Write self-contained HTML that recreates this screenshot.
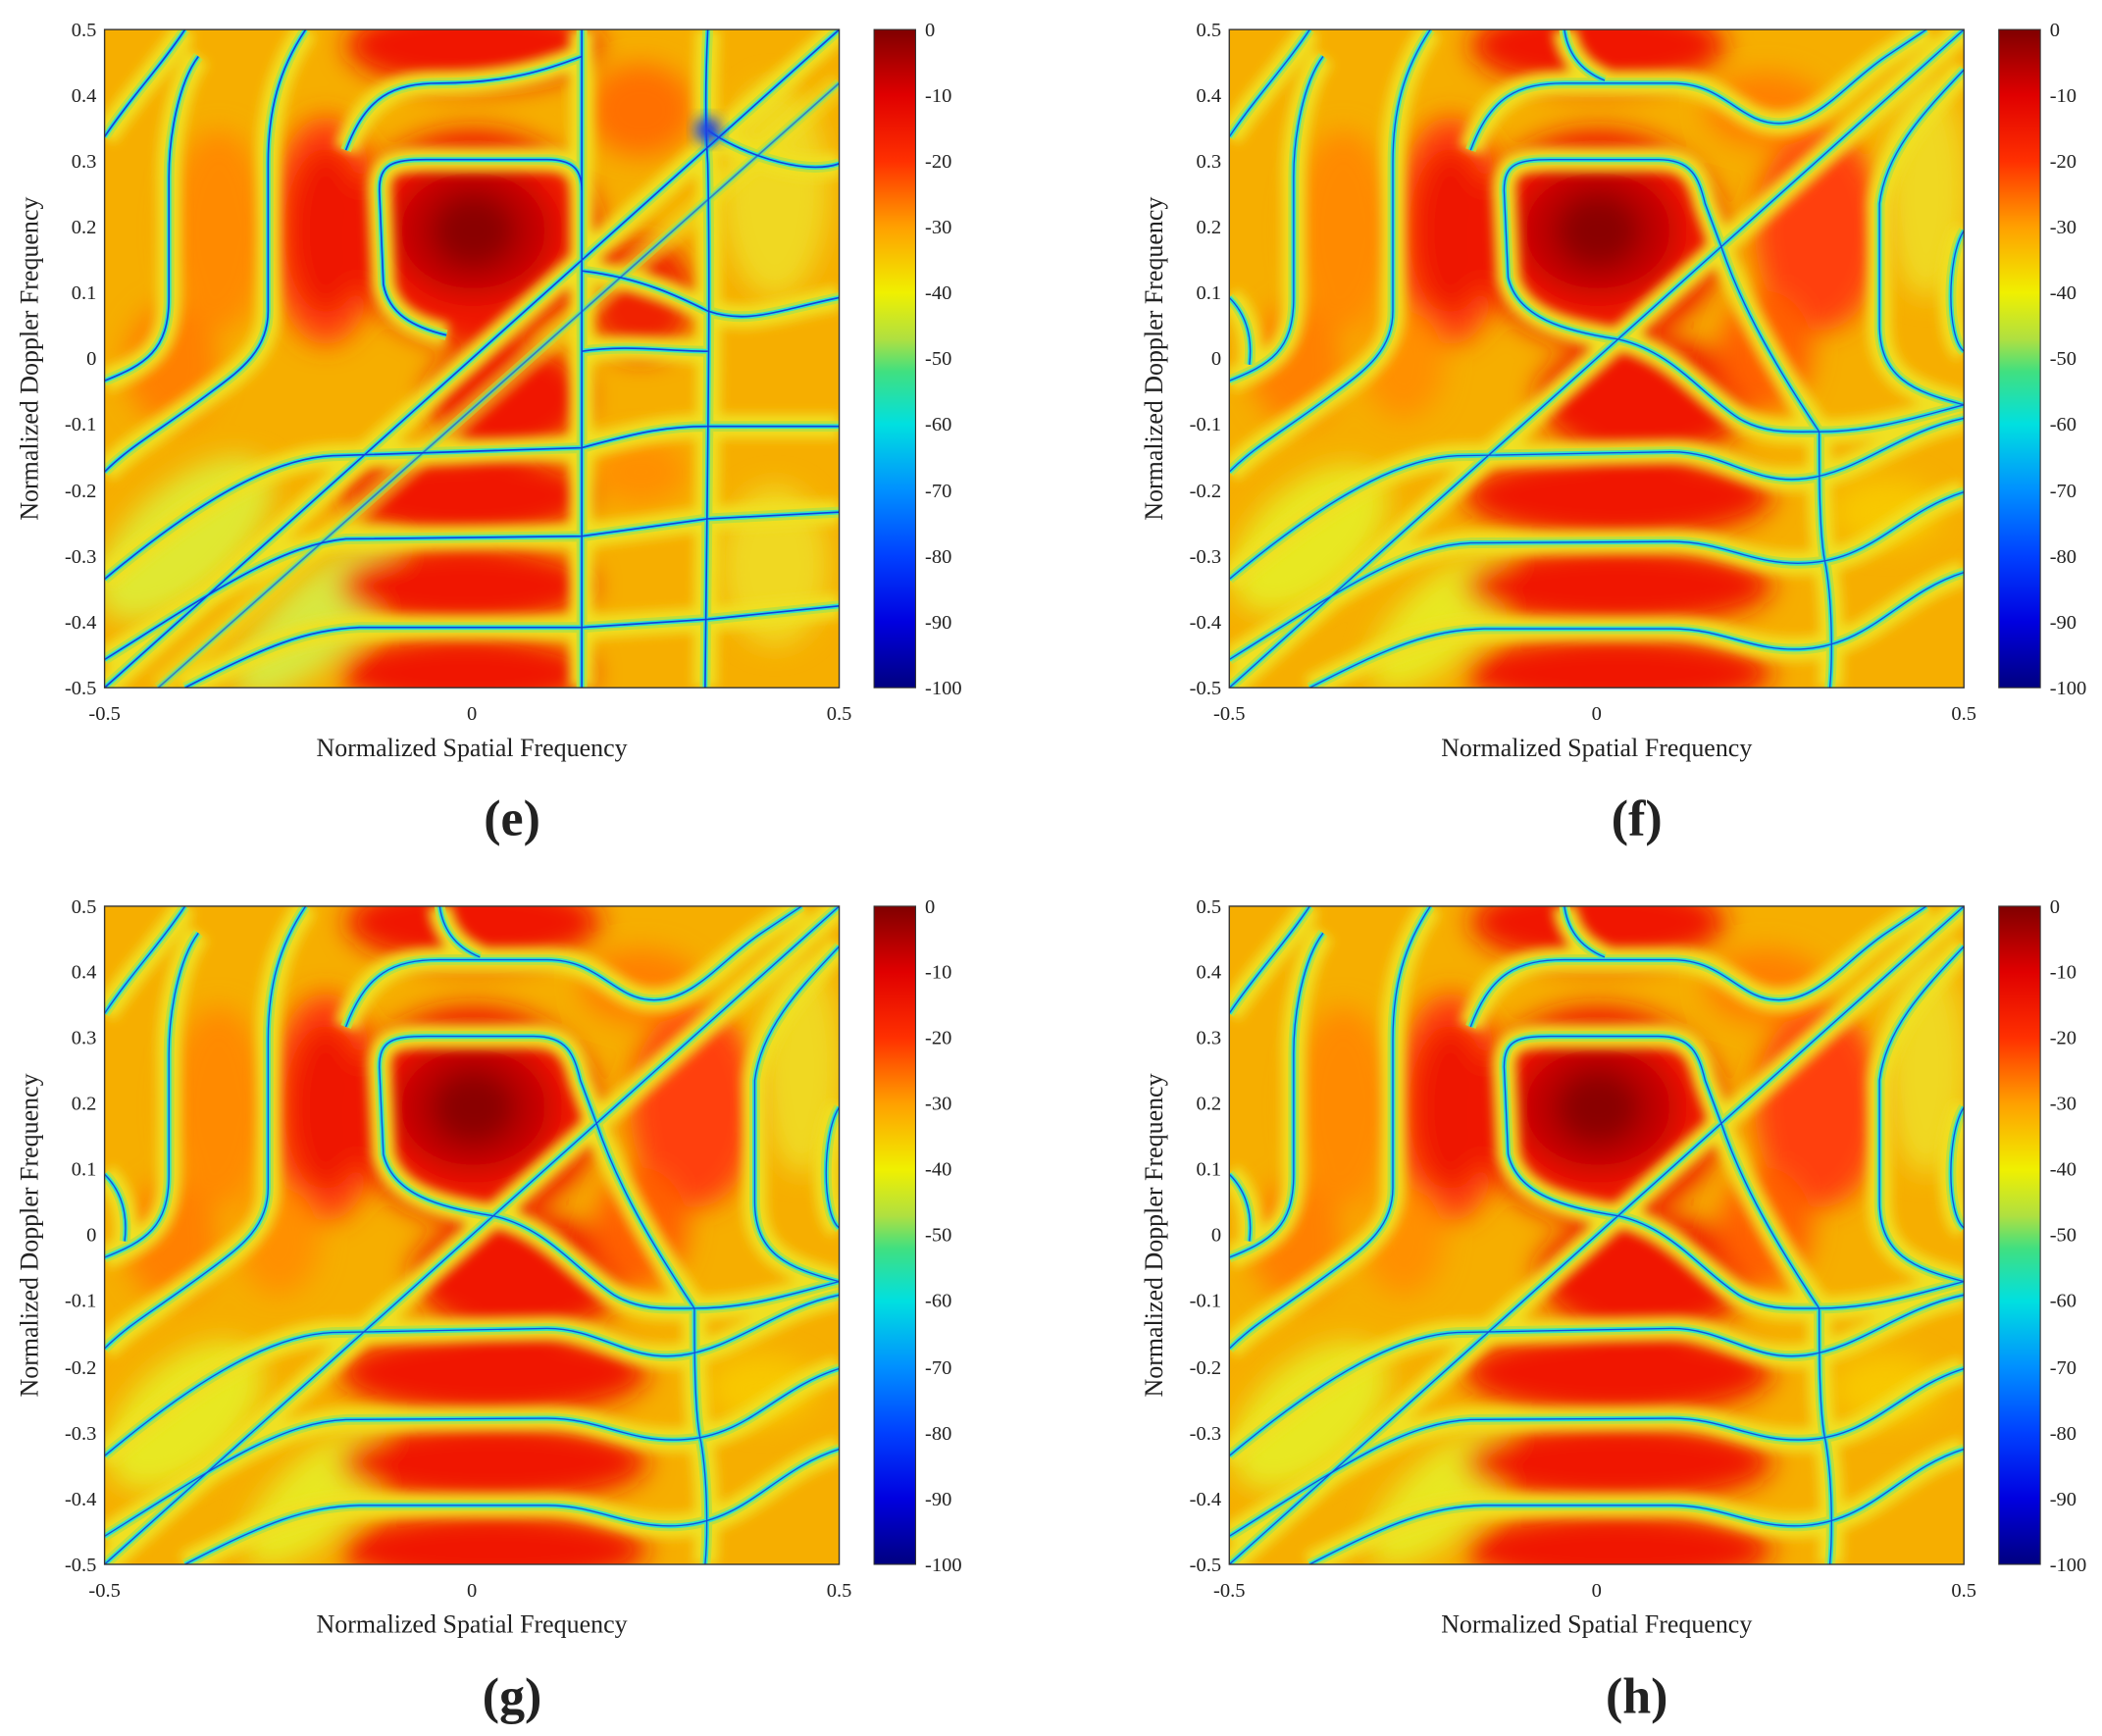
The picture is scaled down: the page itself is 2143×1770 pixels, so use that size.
<!DOCTYPE html>
<html><head><meta charset="utf-8"><style>
html,body{margin:0;padding:0;background:#fff;}
svg{display:block;}
text{font-family:"Liberation Serif",serif;fill:#222;}
</style></head><body>
<svg width="2143" height="1770" viewBox="0 0 1568 1295" xmlns="http://www.w3.org/2000/svg">
<defs>
<linearGradient id="jet" x1="0" y1="0" x2="0" y2="1">
<stop offset="0" stop-color="#800000"/><stop offset="0.1" stop-color="#e00000"/>
<stop offset="0.2" stop-color="#ff3000"/><stop offset="0.3" stop-color="#ffa000"/>
<stop offset="0.4" stop-color="#f0f000"/><stop offset="0.47" stop-color="#b0e040"/>
<stop offset="0.52" stop-color="#40e080"/><stop offset="0.6" stop-color="#00e0e0"/>
<stop offset="0.7" stop-color="#0090ff"/><stop offset="0.8" stop-color="#0040ff"/>
<stop offset="0.9" stop-color="#0000e0"/><stop offset="1" stop-color="#000080"/>
</linearGradient>
<filter id="bl" x="-30%" y="-30%" width="160%" height="160%"><feGaussianBlur stdDeviation="10"/></filter>
<filter id="bl2" x="-30%" y="-30%" width="160%" height="160%"><feGaussianBlur stdDeviation="5"/></filter>
<filter id="bl3" x="-10%" y="-10%" width="120%" height="120%"><feGaussianBlur stdDeviation="4"/></filter>
<clipPath id="cp"><rect x="0" y="0" width="548" height="491"/></clipPath>

<g id="nF" fill="none">
<path d="M0,491 L290,231 L367,162 L548,0"/>
<path d="M290,231 C250,225 215,215 208,185 L205,120 C205,100 215,97 240,97 L320,97 C345,97 350,110 355,130 L367,162"/>
<path d="M290,231 C330,240 350,270 380,290 C400,302 420,300 440,300 C480,300 510,290 548,280"/>
<path d="M367,162 C380,200 400,240 440,300"/>
<path d="M180,90 C195,50 215,40 250,40 L330,40 C370,40 380,70 410,70 C440,70 460,40 490,20 L520,0"/>
<path d="M150,0 C130,30 122,60 122,100 L122,210 C122,240 100,255 80,270 C40,300 20,310 0,330"/>
<path d="M70,20 C55,40 48,80 48,110 L48,200 C48,240 30,250 0,262"/>
<path d="M60,0 C40,30 20,50 0,80"/>
<path d="M0,200 C10,210 18,225 15,250"/>
<path d="M0,410 C60,360 120,320 170,318 L330,315 C370,315 390,340 430,335 C470,330 500,300 548,290"/>
<path d="M0,470 C80,420 130,385 180,383 L330,382 C370,382 390,400 430,398 C480,396 500,360 548,345"/>
<path d="M60,491 C120,460 150,448 190,447 L330,447 C370,447 390,465 430,462 C480,458 500,420 548,405"/>
<path d="M548,30 C520,60 490,90 485,130 L485,220 C485,260 510,270 548,280"/>
<path d="M548,150 C535,170 535,230 548,240"/>
<path d="M440,300 C440,330 440,380 445,400 C450,430 450,470 448,491"/>
<path d="M250,0 C252,15 260,30 280,38"/>
</g>
<symbol id="F" viewBox="0 0 548 491">
<g clip-path="url(#cp)">
<rect width="548" height="491" fill="#f6ae00"/>
<g filter="url(#bl)">
<ellipse cx="60" cy="380" rx="70" ry="40" fill="#e8e820" transform="rotate(-42 60 380)"/>
<ellipse cx="160" cy="440" rx="70" ry="30" fill="#e8e820" transform="rotate(-42 160 440)"/>
<ellipse cx="520" cy="120" rx="30" ry="80" fill="#f0d820"/>
<ellipse cx="85" cy="150" rx="38" ry="75" fill="#ff8a00"/>
<ellipse cx="165" cy="150" rx="42" ry="85" fill="#ff4010"/>
<ellipse cx="165" cy="150" rx="28" ry="62" fill="#ee1800"/>
<ellipse cx="275" cy="155" rx="95" ry="80" fill="#f01800"/>
<ellipse cx="275" cy="150" rx="60" ry="50" fill="#c00000"/>
<ellipse cx="275" cy="150" rx="32" ry="28" fill="#8a0000"/>
<ellipse cx="275" cy="12" rx="95" ry="32" fill="#f01800"/>
<ellipse cx="440" cy="150" rx="48" ry="75" fill="#ff4010"/>
<ellipse cx="310" cy="275" rx="80" ry="45" fill="#f01800"/>
<ellipse cx="400" cy="240" rx="35" ry="45" fill="#ff6000"/>
<ellipse cx="290" cy="348" rx="115" ry="32" fill="#f01800"/>
<ellipse cx="290" cy="415" rx="115" ry="30" fill="#f01800"/>
<ellipse cx="290" cy="480" rx="115" ry="28" fill="#f01800"/>
<ellipse cx="50" cy="250" rx="35" ry="45" fill="#ff8000"/>
<ellipse cx="130" cy="250" rx="30" ry="40" fill="#ff9000"/>
<ellipse cx="400" cy="60" rx="45" ry="28" fill="#ff8000"/>
<ellipse cx="490" cy="360" rx="40" ry="25" fill="#f8c800"/>
</g>
<use href="#nF" stroke="#f0e020" stroke-width="18" filter="url(#bl3)"/>
<use href="#nF" stroke="#b8e040" stroke-width="8" opacity="0.9"/>
<use href="#nF" stroke="#30e0c8" stroke-width="3.5"/>
<use href="#nF" stroke="#1050e0" stroke-width="1"/>
</g>
</symbol>

<g id="nE" fill="none">
<path d="M0,491 L548,0"/>
<path d="M255,228 C230,222 212,212 208,190 L205,120 C205,100 215,97 240,97 L330,97 C350,97 356,105 356,120"/>
<path d="M356,0 L356,491"/>
<path d="M450,0 C448,40 448,70 450,100 C452,200 450,300 448,491"/>
<path d="M180,90 C195,50 215,40 250,40 C300,40 330,30 356,20"/>
<path d="M150,0 C130,30 122,60 122,100 L122,210 C122,240 100,255 80,270 C40,300 20,310 0,330"/>
<path d="M70,20 C55,40 48,80 48,110 L48,200 C48,240 30,250 0,262"/>
<path d="M60,0 C40,30 20,50 0,80"/>
<path d="M0,410 C60,360 120,320 170,318 L356,312 C400,300 420,296 450,296 L548,296"/>
<path d="M0,470 C80,420 130,385 180,380 L356,378 L450,365 L548,360"/>
<path d="M60,491 C120,460 150,448 190,446 L356,446 L450,440 L548,430"/>
<path d="M356,240 C390,235 420,240 450,240"/>
<path d="M356,180 C400,185 430,200 450,210 C480,220 500,210 548,200"/>
<path d="M548,100 C520,110 470,90 450,75"/>
<path d="M40,491 L548,40" stroke-opacity="0.6"/>
</g>
<symbol id="E" viewBox="0 0 548 491">
<g clip-path="url(#cp)">
<rect width="548" height="491" fill="#f6ae00"/>
<g filter="url(#bl)">
<ellipse cx="60" cy="380" rx="80" ry="40" fill="#e0e830" transform="rotate(-42 60 380)"/>
<ellipse cx="160" cy="440" rx="80" ry="30" fill="#d8e840" transform="rotate(-42 160 440)"/>
<ellipse cx="500" cy="120" rx="40" ry="80" fill="#f0d820"/>
<ellipse cx="500" cy="400" rx="40" ry="60" fill="#f0d820"/>
<ellipse cx="85" cy="150" rx="38" ry="75" fill="#ff8a00"/>
<ellipse cx="165" cy="150" rx="42" ry="85" fill="#ff4010"/>
<ellipse cx="165" cy="150" rx="28" ry="62" fill="#ee1800"/>
<ellipse cx="275" cy="155" rx="95" ry="80" fill="#f01800"/>
<ellipse cx="275" cy="150" rx="60" ry="50" fill="#c00000"/>
<ellipse cx="275" cy="150" rx="32" ry="28" fill="#8a0000"/>
<ellipse cx="275" cy="12" rx="95" ry="32" fill="#f01800"/>
<ellipse cx="400" cy="200" rx="40" ry="45" fill="#f02000"/>
<ellipse cx="400" cy="60" rx="40" ry="35" fill="#ff7000"/>
<ellipse cx="300" cy="275" rx="60" ry="42" fill="#f01800"/>
<ellipse cx="270" cy="348" rx="95" ry="32" fill="#f01800"/>
<ellipse cx="270" cy="415" rx="95" ry="30" fill="#f01800"/>
<ellipse cx="270" cy="480" rx="95" ry="28" fill="#f01800"/>
<ellipse cx="50" cy="250" rx="35" ry="45" fill="#ff8000"/>
<ellipse cx="400" cy="330" rx="35" ry="25" fill="#ff9000"/>
</g>
<use href="#nE" stroke="#f0e020" stroke-width="18" filter="url(#bl3)"/>
<use href="#nE" stroke="#b8e040" stroke-width="8" opacity="0.9"/>
<use href="#nE" stroke="#30e0c8" stroke-width="3.5"/>
<use href="#nE" stroke="#1040e0" stroke-width="1.2"/>
<circle cx="450" cy="75" r="10" fill="#2040e0" filter="url(#bl2)"/>
</g>
</symbol>

<g id="axes" font-size="15">
<rect x="0" y="0" width="548" height="491" fill="none" stroke="#333" stroke-width="1"/>
<g text-anchor="end">
<text x="-6" y="5">0.5</text><text x="-6" y="54">0.4</text><text x="-6" y="103">0.3</text>
<text x="-6" y="152">0.2</text><text x="-6" y="201">0.1</text><text x="-6" y="250">0</text>
<text x="-6" y="299">-0.1</text><text x="-6" y="349">-0.2</text><text x="-6" y="398">-0.3</text>
<text x="-6" y="447">-0.4</text><text x="-6" y="496">-0.5</text>
</g>
<g text-anchor="middle">
<text x="0" y="515">-0.5</text><text x="274" y="515">0</text><text x="548" y="515">0.5</text>
<text x="274" y="542" font-size="19">Normalized Spatial Frequency</text>
<text transform="translate(-50,245.5) rotate(-90)" font-size="19">Normalized Doppler Frequency</text>
</g>
<rect x="574" y="0" width="31" height="491" fill="url(#jet)" stroke="#333" stroke-width="0.8"/>
<g font-size="15">
<text x="612" y="5">0</text><text x="612" y="54">-10</text><text x="612" y="103">-20</text>
<text x="612" y="152">-30</text><text x="612" y="201">-40</text><text x="612" y="250">-50</text>
<text x="612" y="299">-60</text><text x="612" y="349">-70</text><text x="612" y="398">-80</text>
<text x="612" y="447">-90</text><text x="612" y="496">-100</text>
</g>
</g>
</defs>

<g transform="translate(78,22)"><use href="#E" x="0" y="0" width="548" height="491"/><use href="#axes"/></g>
<g transform="translate(917,22)"><use href="#F" x="0" y="0" width="548" height="491"/><use href="#axes"/></g>
<g transform="translate(78,676)"><use href="#F" x="0" y="0" width="548" height="491"/><use href="#axes"/></g>
<g transform="translate(917,676)"><use href="#F" x="0" y="0" width="548" height="491"/><use href="#axes"/></g>

<g font-size="38" font-weight="bold" text-anchor="middle">
<text x="382" y="623">(e)</text><text x="1221" y="623">(f)</text>
<text x="382" y="1278">(g)</text><text x="1221" y="1278">(h)</text>
</g>
</svg>
</body></html>
